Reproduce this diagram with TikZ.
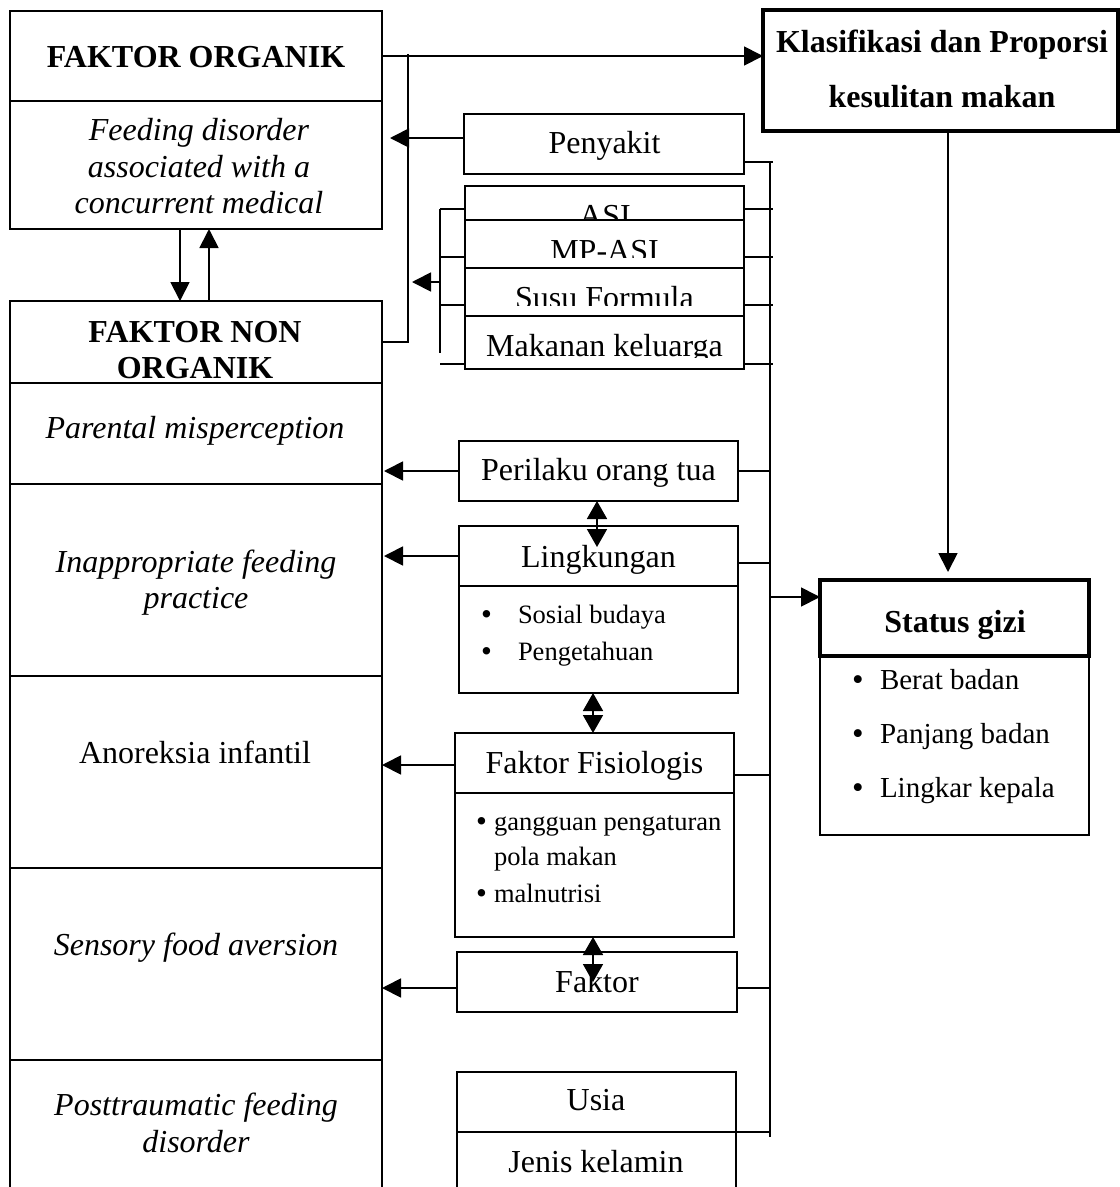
\documentclass[tikz,border=0pt]{standalone}
\usepackage{fontspec}
\setmainfont{Liberation Serif}
\usetikzlibrary{arrows.meta}
\newcommand\mybox[6]{\node[#6, minimum width={#4-#2}, minimum height={#5-#3}] (#1) at ({(#2+#4)/2},{(#3+#5)/2}) {};}
\tikzset{
  box/.style={draw, rectangle, line width=1.8pt, fill=white, inner sep=0pt, outer sep=0pt},
  thickbox/.style={box, line width=3.8pt},
  txt/.style={inner sep=0pt, outer sep=0pt, anchor=base, font=\fontsize{32}{37}\selectfont},
  btxt/.style={txt, font=\fontsize{32}{37}\selectfont\bfseries},
  itxt/.style={txt, font=\fontsize{32}{37}\selectfont\itshape},
  stxt/.style={inner sep=0pt, outer sep=0pt, anchor=base west, font=\fontsize{26.5}{30}\selectfont},
  sbul/.style={inner sep=0pt, outer sep=0pt, anchor=base west, font=\fontsize{31}{30}\selectfont},
  gtxt/.style={inner sep=0pt, outer sep=0pt, anchor=base west, font=\fontsize{29}{33}\selectfont},
  gbul/.style={inner sep=0pt, outer sep=0pt, anchor=base west, font=\fontsize{33}{33}\selectfont},
  ln/.style={line width=1.8pt},
  arr/.style={line width=1.8pt, -{Triangle[length=19pt,width=19pt]}},
  dbl/.style={line width=1.8pt, {Triangle[length=18pt,width=20pt]}-{Triangle[length=18pt,width=20pt]}},
}
\begin{document}
\begin{tikzpicture}[x=1pt,y=-1pt]
\useasboundingbox (0,0) rectangle (1120,1187);
\fill[white] (0,0) rectangle (1120,1187);
\clip (0,0) rectangle (1120,1187);

% left column
\mybox{org}{10}{11}{382}{101}{box}
\mybox{feed}{10}{101}{382}{229}{box}
\mybox{nonorg}{10}{301}{382}{383}{box}
\mybox{parent}{10}{383}{382}{484}{box}
\mybox{inapp}{10}{484}{382}{676}{box}
\mybox{anor}{10}{676}{382}{868}{box}
\mybox{sens}{10}{868}{382}{1060}{box}
\mybox{post}{10}{1060}{382}{1210}{box}

% right column
\mybox{klas}{763}{10}{1118}{131}{thickbox}
\mybox{statsub}{820}{656}{1089}{835}{box}
\mybox{status}{820}{580}{1089}{656}{thickbox}

% middle column
\mybox{peny}{464}{114}{744}{174}{box}
\mybox{peril}{459}{441}{738}{501}{box}
\mybox{ling}{459}{526}{738}{586}{box}
\mybox{lingsub}{459}{586}{738}{693}{box}
\mybox{fis}{455}{733}{734}{793}{box}
\mybox{fissub}{455}{793}{734}{937}{box}
\mybox{fak}{457}{952}{737}{1012}{box}
\mybox{usia}{457}{1072}{736}{1132}{box}
\mybox{jenis}{457}{1132}{736}{1210}{box}

% stacked feeding boxes (text partly hidden)
\mybox{asi}{465}{186}{744}{236}{box}
\node[txt] (tAsi) at (605,226) {ASI};
\mybox{mpasi}{465}{220}{744}{268}{box}
\begin{scope}
  \clip (465,220) rectangle (744,257);
  \node[txt] (tMp) at (604.5,261) {MP-ASI};
\end{scope}
\mybox{susu}{465}{268}{744}{316}{box}
\begin{scope}
  \clip (465,268) rectangle (744,305);
  \node[txt] (tSusu) at (604.5,308) {Susu Formula};
\end{scope}
\mybox{makan}{465}{316}{744}{369}{box}
\begin{scope}
  \clip (465,316) rectangle (744,357);
  \node[txt] (tMakan) at (604.5,356) {Makanan keluarga};
\end{scope}

% texts left
\node[btxt] (tOrg) at (196,67) {FAKTOR ORGANIK};
\node[itxt] (tFeed1) at (199,140) {Feeding disorder};
\node[itxt] (tFeed2) at (199,177) {associated with a};
\node[itxt] (tFeed3) at (199,213) {concurrent medical};
\node[btxt] (tNon1) at (195,342) {FAKTOR NON};
\node[btxt] (tNon2) at (195,378) {ORGANIK};
\node[itxt] (tPar) at (195,438) {Parental misperception};
\node[itxt] (tIna1) at (196,572) {Inappropriate feeding};
\node[itxt] (tIna2) at (196,608) {practice};
\node[txt] (tAno) at (195,763) {Anoreksia infantil};
\node[itxt] (tSen) at (196,955) {Sensory food aversion};
\node[itxt] (tPost1) at (196,1115) {Posttraumatic feeding};
\node[itxt] (tPost2) at (196,1152) {disorder};

% texts right
\node[btxt] (tKlas1) at (942,52) {Klasifikasi dan Proporsi};
\node[btxt] (tKlas2) at (942,107) {kesulitan makan};
\node[btxt] (tStat) at (955,632) {Status gizi};
\node[gbul] (gb1) at (852,690) {\textbullet};
\node[gbul] (gb2) at (852,744) {\textbullet};
\node[gbul] (gb3) at (852,798) {\textbullet};
\node[gtxt] (gt1) at (880,689) {Berat badan};
\node[gtxt] (gt2) at (880,743) {Panjang badan};
\node[gtxt] (gt3) at (880,797) {Lingkar kepala};

% texts middle
\node[txt] (tPeny) at (604.5,153) {Penyakit};
\node[txt] (tPeril) at (598.5,480) {Perilaku orang tua};
\node[txt] (tLing) at (598.5,567) {Lingkungan};
\node[sbul] (lb1) at (481,624) {\textbullet};
\node[sbul] (lb2) at (481,661) {\textbullet};
\node[stxt] (lt1) at (518,623) {Sosial budaya};
\node[stxt] (lt2) at (518,660) {Pengetahuan};
\node[txt] (tFis) at (594.5,773) {Faktor Fisiologis};
\node[sbul] (fb1) at (476,831) {\textbullet};
\node[sbul] (fb2) at (476,903) {\textbullet};
\node[stxt] (ft1) at (494,830) {gangguan pengaturan};
\node[stxt] (ft2) at (494,865) {pola makan};
\node[stxt] (ft3) at (494,902) {malnutrisi};
\node[txt] (tFak) at (597,992) {Faktor};
\node[txt] (tUsia) at (596,1110) {Usia};
\node[txt] (tJenis) at (596,1172) {Jenis kelamin};

% coordinates
\coordinate (j1) at (408,54);
\coordinate (b1) at (440,209);
\coordinate (b2) at (440,257);
\coordinate (b3) at (440,305);
\coordinate (b4) at (440,364);
\coordinate (bend) at (440,353);
\coordinate (bmid) at (440,282);
\coordinate (r0) at (770,162);
\coordinate (r1) at (773,209);
\coordinate (r2) at (773,257);
\coordinate (r3) at (773,305);
\coordinate (r4) at (773,364);
\coordinate (rend) at (770,1137);
\coordinate (rs) at (770,597);

% connectors
\draw[arr] (org.east) -- (org.east -| klas.west);
\draw[ln] (nonorg.east) -- (nonorg.east -| j1) -- (j1);
\draw[arr, shorten >=8pt] ([yshift=6pt]peny.west) -- ([yshift=6pt]peny.west -| feed.east);
\draw[ln] (b1) -- (bend);
\draw[ln] (b1) -- (b1 -| asi.west);
\draw[ln] (b2) -- (b2 -| asi.west);
\draw[ln] (b3) -- (b3 -| asi.west);
\draw[ln] (b4) -- (b4 -| asi.west);
\draw[arr, shorten >=4pt] (bmid) -- (bmid -| j1);
\draw[arr] ([xshift=-16pt]feed.south) -- ([xshift=-16pt]nonorg.north);
\draw[arr] ([xshift=13pt]nonorg.north) -- ([xshift=13pt]feed.south);

\draw[ln] (r0) -- (rend);
\draw[ln] ([yshift=-18pt]peny.east) -- ([xshift=3pt]r0);
\draw[ln] (r1 -| asi.east) -- (r1);
\draw[ln] (r2 -| asi.east) -- (r2);
\draw[ln] (r3 -| asi.east) -- (r3);
\draw[ln] (r4 -| asi.east) -- (r4);
\draw[ln] (peril.east) -- (peril.east -| rend);
\draw[ln] ([yshift=-7pt]ling.east) -- ([yshift=-7pt]ling.east -| rend);
\draw[ln] ([yshift=-12pt]fis.east) -- ([yshift=-12pt]fis.east -| rend);
\draw[ln] ([yshift=-6pt]fak.east) -- ([yshift=-6pt]fak.east -| rend);
\draw[ln] (usia.south east) -- (usia.south east -| rend);
\draw[arr] (rs) -- (rs -| status.west);
\draw[arr, shorten <=2pt, shorten >=8pt] ([xshift=7.5pt]klas.south) -- ([xshift=7.5pt]klas.south |- status.north);

\draw[arr, shorten >=2pt] (peril.west) -- (peril.west -| parent.east);
\draw[arr, shorten >=2pt] (ling.west) -- (ling.west -| inapp.east);
\draw[arr] ([yshift=-2pt]fis.west) -- ([yshift=-2pt]fis.west -| anor.east);
\draw[arr] ([yshift=-6pt]fak.west) -- ([yshift=-6pt]fak.west -| sens.east);

\draw[dbl] ([xshift=-1.5pt]peril.south) -- ([xshift=-1.5pt,yshift=-21pt]ling.north);
\draw[dbl] ([xshift=-5.5pt]lingsub.south) -- ([xshift=-1.5pt]fis.north);
\draw[dbl] ([xshift=-1.5pt]fissub.south) -- ([xshift=-4pt,yshift=-30pt]fak.north);
\end{tikzpicture}
\end{document}
